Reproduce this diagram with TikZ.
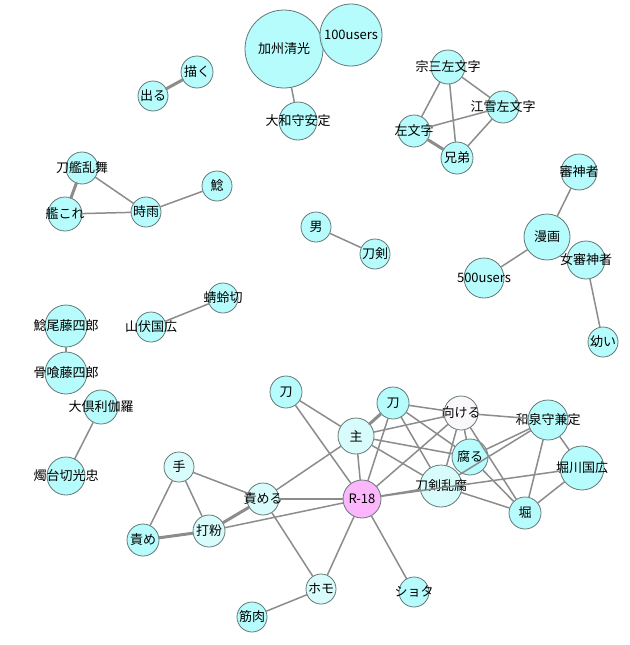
\documentclass[tikz,border=0pt]{standalone}
\usepackage{fontspec}
\setmainfont{Noto Sans CJK JP}
\definecolor{kwcyan}{RGB}{170,252,252}
\definecolor{kwlight}{RGB}{210,252,252}
\definecolor{kwpink}{RGB}{252,170,252}
\definecolor{kwwhite}{RGB}{250,246,250}
\definecolor{kwborder}{RGB}{100,120,120}
\definecolor{kwedge}{RGB}{140,140,140}
\newcommand{\nm}[1]{\makebox[0pt]{#1}}
\begin{document}
\begin{tikzpicture}[x=1pt, y=-1pt, font=\fontsize{13}{15}\selectfont, line join=round, line cap=round,
	kw/.style={circle, draw=kwborder, line width=0.8pt, fill=kwcyan, fill opacity=0.85, text opacity=1, inner sep=0pt, minimum size=#1},
	kw/.default=30,
	kwl/.style={kw=#1, fill=kwlight},
	kwl/.default=30,
	e/.style={draw=kwedge, line width=1.5pt},
	ew/.style={draw=kwedge, line width=3pt}]
	\fill[white] (0,0) rectangle (629,645);
	\useasboundingbox (0,0) rectangle (629,645);
	% nodes
	\node[kw=78] (kashu) at (284,49) {\nm{加州清光}};
	\node[kw=62] (users100) at (351,35) {\nm{100users}};
	\node[kw=38] (yamato) at (298,121) {\nm{大和守安定}};
	\node[kw=32] (egaku) at (197,72) {\nm{描く}};
	\node[kw=30] (deru) at (153,96) {\nm{出る}};
	\node[kw=34] (souza) at (448,67) {\nm{宗三左文字}};
	\node[kw=32] (kousetsu) at (503,107) {\nm{江雪左文字}};
	\node[kw=32] (samonji) at (414,131) {\nm{左文字}};
	\node[kw=32] (kyoudai) at (457,158) {\nm{兄弟}};
	\node[kw=32] (toukan) at (82,168) {\nm{刀艦乱舞}};
	\node[kw=34] (kancolle) at (65,214) {\nm{艦これ}};
	\node[kw=30] (shigure) at (146,212) {\nm{時雨}};
	\node[kw=30] (namazu) at (217,186) {\nm{鯰}};
	\node[kw=30] (otoko) at (316,227) {\nm{男}};
	\node[kw=30] (touken) at (375,254) {\nm{刀剣}};
	\node[kw=36] (saniwa) at (579,172) {\nm{審神者}};
	\node[kw=46] (manga) at (547,237) {\nm{漫画}};
	\node[kw=38] (onnasaniwa) at (586,260) {\nm{女審神者}};
	\node[kw=40] (users500) at (484,278) {\nm{500users}};
	\node[kw=30] (osanai) at (603,342) {\nm{幼い}};
	\node[kw=42] (namazuo) at (66,326) {\nm{鯰尾藤四郎}};
	\node[kw=42] (honebami) at (66,373) {\nm{骨喰藤四郎}};
	\node[kw=34] (okurikara) at (101,407) {\nm{大倶利伽羅}};
	\node[kw=38] (shokudaikiri) at (66,476) {\nm{燭台切光忠}};
	\node[kw=30] (yamabushi) at (151,327) {\nm{山伏国広}};
	\node[kw=30] (tonbo) at (223,298) {\nm{蜻蛉切}};
	\node[kw=32] (katanaA) at (286,392) {\nm{刀}};
	\node[kw=32] (katanaB) at (393,403) {\nm{刀}};
	\node[kwl=36] (aruji) at (356,436) {\nm{主}};
	\node[kw=34, fill=kwwhite] (mukeru) at (461,413) {\nm{向ける}};
	\node[kw=40] (izumi) at (548,420) {\nm{和泉守兼定}};
	\node[kw=36] (kusaru) at (470,457) {\nm{腐る}};
	\node[kw=44] (horikawa) at (582,468) {\nm{堀川国広}};
	\node[kwl=42] (ranpu) at (441,486) {\nm{刀剣乱腐}};
	\node[kw=38, fill=kwpink] (r18) at (362,499) {\nm{R-18}};
	\node[kw=32] (hori) at (525,513) {\nm{堀}};
	\node[kwl=32] (semeru) at (263,499) {\nm{責める}};
	\node[kwl=30] (te) at (179,467) {\nm{手}};
	\node[kwl=32] (uchiko) at (209,531) {\nm{打粉}};
	\node[kw=32] (seme) at (143,540) {\nm{責め}};
	\node[kwl=30] (homo) at (321,589) {\nm{ホモ}};
	\node[kw=30] (kinniku) at (252,617) {\nm{筋肉}};
	\node[kw=30] (shota) at (414,592) {\nm{ショタ}};
	% edges
	\foreach \a/\b in {kashu/yamato, souza/kousetsu, souza/samonji, souza/kyoudai, kousetsu/samonji,
		kousetsu/kyoudai, toukan/shigure, kancolle/shigure, shigure/namazu, otoko/touken,
		saniwa/manga, manga/users500, onnasaniwa/osanai, namazuo/honebami, okurikara/shokudaikiri,
		yamabushi/tonbo, katanaA/aruji, katanaA/r18, katanaB/r18, katanaB/mukeru, katanaB/kusaru,
		katanaB/ranpu, aruji/mukeru, aruji/kusaru, aruji/ranpu, aruji/r18, aruji/semeru,
		mukeru/izumi, mukeru/kusaru, mukeru/ranpu, mukeru/hori, mukeru/r18, kusaru/hori,
		kusaru/izumi, ranpu/izumi, ranpu/hori, izumi/hori, izumi/horikawa, horikawa/hori,
		r18/ranpu, r18/horikawa, r18/semeru, r18/uchiko, r18/homo, r18/shota, semeru/te,
		semeru/homo, te/uchiko, te/seme, homo/kinniku}
		\draw[e] (\a) -- (\b);
	\foreach \a/\b in {egaku/deru, samonji/kyoudai, toukan/kancolle, katanaB/aruji, semeru/uchiko, seme/uchiko}
		\draw[ew] (\a) -- (\b);
\end{tikzpicture}
\end{document}
